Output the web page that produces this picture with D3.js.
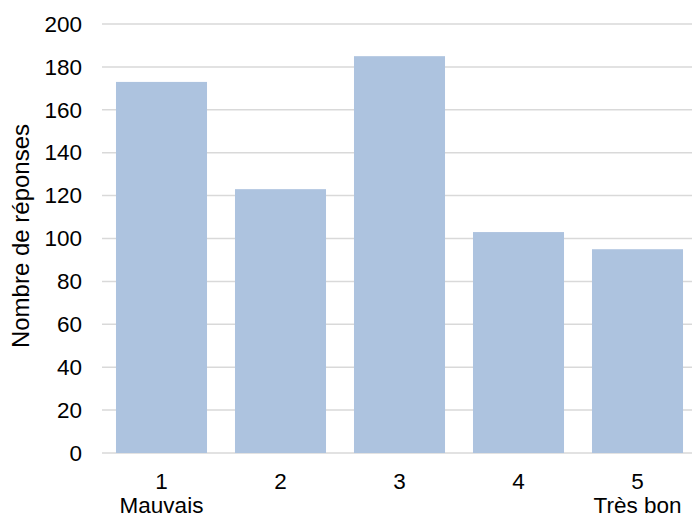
<!DOCTYPE html>
<html>
<head>
<meta charset="utf-8" />
<title>Nombre de réponses</title>
<script src="https://d3js.org/d3.v7.min.js"></script>
<style>
  body { margin: 0; padding: 0; background: #ffffff; }
  text { font-family: "Liberation Sans", Arial, sans-serif; fill: #000000; }
</style>
</head>
<body>
<div id="chart"></div>
<script>

const categories = ['1', '2', '3', '4', '5']
const subLabels = ['Mauvais', '', '', '', 'Très bon']
const values = [173, 123, 185, 103, 95]
const yTicks = [0, 20, 40, 60, 80, 100, 120, 140, 160, 180, 200]

const width = 692, height = 518
const margin = {top: 24, right: -5, bottom: 65, left: 102}
const fontSize = 22.5

const svg = d3.select('#chart')
  .append('svg')
  .attr('width', width)
  .attr('height', height)

const x = d3.scaleBand()
  .domain(categories)
  .range([margin.left, width - margin.right])
  .paddingInner(0.235)
  .paddingOuter(0.1175)

const y = d3.scaleLinear()
  .domain([0, 200])
  .range([height - margin.bottom, margin.top])

// gridlines
svg.append('g')
  .selectAll('line')
  .data(yTicks)
  .enter()
  .append('line')
    .attr('x1', margin.left)
    .attr('x2', width)
    .attr('y1', d => y(d))
    .attr('y2', d => y(d))
    .attr('stroke', '#d9d9d9')
    .attr('stroke-width', 1.5)

// bars
svg.append('g')
  .selectAll('rect')
  .data(values)
  .enter()
  .append('rect')
    .attr('x', (d, i) => x(categories[i]))
    .attr('width', x.bandwidth())
    .attr('y', d => y(d))
    .attr('height', d => y(0) - y(d))
    .attr('fill', '#adc3df')

// y axis labels
const yAxis = svg.append('g')
  .attr('transform', 'translate(82,0)')
  .call(d3.axisLeft(y).tickValues(yTicks).tickSize(0).tickPadding(0))
yAxis.attr('font-size', fontSize).attr('font-family', null)
yAxis.select('.domain').remove()

// x axis labels
const xAxis = svg.append('g')
  .attr('transform', 'translate(0,' + (y(0) + 15) + ')')
  .call(d3.axisBottom(x).tickSize(0).tickPadding(0))
xAxis.attr('font-size', fontSize).attr('font-family', null)
xAxis.select('.domain').remove()
xAxis.selectAll('text').attr('dy', null).attr('y', 21)

svg.append('g')
  .selectAll('text')
  .data(subLabels)
  .enter()
  .append('text')
    .attr('x', (d, i) => x(categories[i]) + x.bandwidth() / 2)
    .attr('y', 513)
    .attr('text-anchor', 'middle')
    .attr('font-size', fontSize)
    .text(d => d)

// y title
svg.append('text')
  .attr('transform', 'translate(29,236) rotate(-90)')
  .attr('text-anchor', 'middle')
  .attr('font-size', 24)
  .text('Nombre de réponses')

</script>
</body>
</html>
